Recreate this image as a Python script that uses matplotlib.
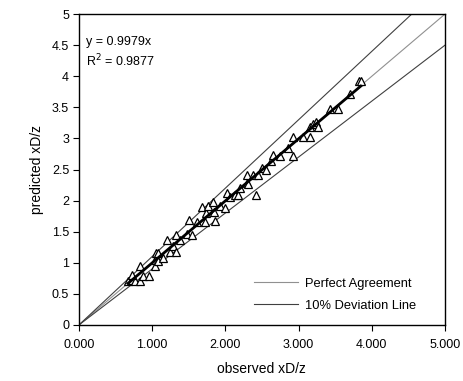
import numpy as np
import matplotlib
matplotlib.use("Agg")
import matplotlib.pyplot as plt
from matplotlib.lines import Line2D

plt.rcParams['font.family'] = ['Liberation Sans', 'DejaVu Sans']

# observed vs predicted xD/z
observed = [0.67, 0.72, 0.77, 0.83, 0.83, 0.73, 0.88, 0.96, 1.04, 1.06, 1.08, 1.04,
            1.08, 1.15, 1.20, 1.25, 1.29, 1.33, 1.33, 1.38, 1.47, 1.51, 1.54, 1.61,
            1.68, 1.72, 1.74, 1.77, 1.83, 1.84, 1.86, 1.93, 1.99, 2.02, 2.06, 2.13,
            2.18, 2.20, 2.29, 2.30, 2.31, 2.38, 2.45, 2.42, 2.50, 2.55, 2.63, 2.65,
            2.75, 2.86, 2.92, 2.93, 3.06, 3.16, 3.16, 3.20, 3.24, 3.27, 3.43, 3.54,
            3.70, 3.82, 3.85]
predicted = [0.70, 0.72, 0.70, 0.70, 0.95, 0.80, 0.78, 0.79, 1.05, 1.16, 1.16, 0.95,
             1.03, 1.07, 1.37, 1.18, 1.27, 1.18, 1.45, 1.37, 1.47, 1.69, 1.45, 1.66,
             1.89, 1.66, 1.80, 1.91, 1.97, 1.82, 1.68, 1.91, 1.88, 2.12, 2.06, 2.09,
             2.09, 2.20, 2.28, 2.41, 2.27, 2.41, 2.41, 2.09, 2.52, 2.50, 2.64, 2.73,
             2.72, 2.84, 2.72, 3.02, 3.02, 3.02, 3.18, 3.24, 3.27, 3.18, 3.48, 3.48,
             3.71, 3.93, 3.93]

slope = 0.9979
r_squared = 0.9877
deviation = 0.10

fig = plt.figure(figsize=(4.64, 3.81), dpi=100)
ax = fig.add_axes([0.170, 0.147, 0.789, 0.816])

# reference lines
xr = np.array([0.0, 5.0])
ax.plot(xr, xr, color='#909090', lw=0.8, zorder=1)
ax.plot(xr, (1 + deviation) * xr, color='#404040', lw=0.8, zorder=1)
ax.plot(xr, (1 - deviation) * xr, color='#404040', lw=0.8, zorder=1)

# data
ax.plot(observed, predicted, linestyle='none', marker='^', markersize=6.3,
        markerfacecolor='white', markeredgecolor='black', markeredgewidth=0.9, zorder=3)

# linear fit through origin
xf = np.array([min(observed), max(observed)])
ax.plot(xf, slope * xf, color='black', lw=2.0, zorder=4)

ax.set_xlim(0, 5)
ax.set_ylim(0, 5)
ax.set_xticks(np.arange(0, 5.01, 1.0))
ax.set_xticklabels(['%.3f' % v for v in np.arange(0, 5.01, 1.0)])
ax.set_yticks(np.arange(0, 5.01, 0.5))
ax.set_yticklabels(['0', '0.5', '1', '1.5', '2', '2.5', '3', '3.5', '4', '4.5', '5'])
ax.tick_params(direction='out', length=4, width=0.8, labelsize=9, pad=3)
ax.tick_params(axis='x', pad=6)
for s in ax.spines.values():
    s.set_linewidth(1.0)

ax.set_xlabel('observed xD/z', fontsize=10, labelpad=8)
ax.set_ylabel('predicted xD/z', fontsize=10, labelpad=6)

ax.text(0.02, 0.91, 'y = 0.9979x', transform=ax.transAxes, fontsize=9, va='center')
ax.text(0.02, 0.85, r'R$^2$ = 0.9877', transform=ax.transAxes, fontsize=9, va='center')

handles = [Line2D([], [], color='#909090', lw=0.8),
           Line2D([], [], color='#404040', lw=0.8)]
ax.legend(handles, ['Perfect Agreement', '10% Deviation Line'], loc='lower left',
          frameon=False, fontsize=9.3, handlelength=3.4, handletextpad=0.55,
          labelspacing=0.75, bbox_to_anchor=(0.46, 0.022), borderpad=0)

fig.savefig('out.png', dpi=100)
